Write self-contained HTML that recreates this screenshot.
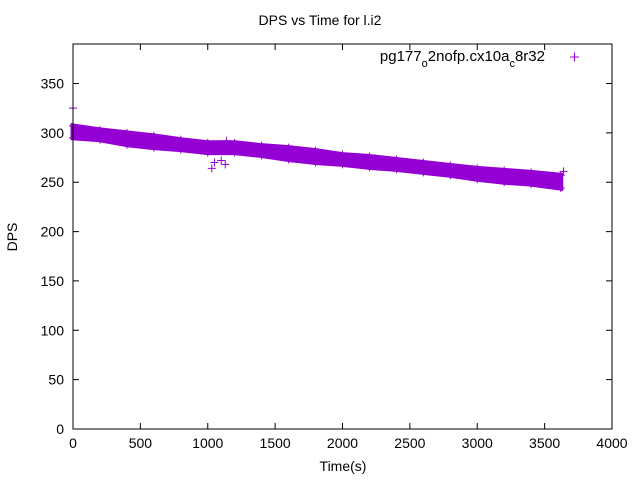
<!DOCTYPE html>
<html><head><meta charset="utf-8"><style>
body{margin:0;background:#fff}
svg{display:block;font-family:"Liberation Sans",sans-serif}
</style></head><body>
<svg id="chart" width="640" height="480">
<text x="320" y="25" font-size="14" text-anchor="middle">DPS vs Time for l.i2</text>
<text x="17" y="237" font-size="14" text-anchor="middle" transform="rotate(-90 17 237)">DPS</text>
<text x="343" y="471" font-size="14" text-anchor="middle">Time(s)</text>
<g id="ticks"></g>
<g id="marks"></g>
<rect x="73" y="44" width="539" height="385" fill="none" stroke="#000"/>
<g>
<text x="545" y="61" font-size="15" text-anchor="end">pg177<tspan font-size="11" dy="6">o</tspan><tspan dy="-6">2nofp.cx10a</tspan><tspan font-size="11" dy="6">c</tspan><tspan dy="-6">8r32</tspan></text>
<path d="M570 57h9M574.5 52.5v9" stroke="#9400d3" stroke-width="1"/>
</g>
</svg>
<script>
const times=[0,200,400,600,800,1000,1200,1400,1600,1800,2000,2200,2400,2600,2800,3000,3200,3400,3620];
const dpsHi=[307,303,300,297,293,290,290,287,285,282,278,276,273,270,267,264,262,260,257];
const dpsLo=[295,293,288,285,283,280,280,277,273,270,268,265,263,260,257,253,250,248,244];
const outT=[0,1030,1050,1100,1130,1140,3640];
const outV=[325,264,270,272,268,292,261];
const xTicks=[0,500,1000,1500,2000,2500,3000,3500,4000];
const yTicks=[0,50,100,150,200,250,300,350];
const X=t=>73+t*(539/4000), Y=v=>429-v*(385/390);
const NS='http://www.w3.org/2000/svg';
const tg=document.getElementById('ticks'), mg=document.getElementById('marks');
function mk(tag,attrs,parent){const e=document.createElementNS(NS,tag);for(const k in attrs)e.setAttribute(k,attrs[k]);parent.appendChild(e);return e;}
xTicks.forEach(t=>{
 const l=mk('path',{d:`M${X(t)} 429v-6M${X(t)} 44v6`,stroke:'#000'},tg);
 
 
 const s=mk('text',{x:X(t),y:448,'font-size':14,'text-anchor':'middle'},tg);s.textContent=t;
 
 
});
yTicks.forEach(v=>{
 const l=mk('path',{d:`M73 ${Y(v)}h6M612 ${Y(v)}h-6`,stroke:'#000'},tg);
 
 
 const s=mk('text',{x:64,y:Y(v)+5,'font-size':14,'text-anchor':'end'},tg);s.textContent=v;
 
 
});
let pts=times.map((t,i)=>`${X(t)},${Y(dpsHi[i])}`).concat(times.map((t,i)=>`${X(t)},${Y(dpsLo[i])}`).reverse());
const band=mk('polygon',{points:pts.join(' '),fill:'#9400d3',stroke:'#9400d3','stroke-width':5,'stroke-linejoin':'miter'},mg);


function plus(t,v){const p=mk('path',{d:`M${X(t)-4} ${Y(v)}h8M${X(t)} ${Y(v)-4}v8`,stroke:'#9400d3'},mg);
 
 }
times.forEach((t,i)=>{plus(t,dpsHi[i]);plus(t,dpsLo[i]);});
outT.forEach((t,i)=>plus(t,outV[i]));
</script>
</body></html>
